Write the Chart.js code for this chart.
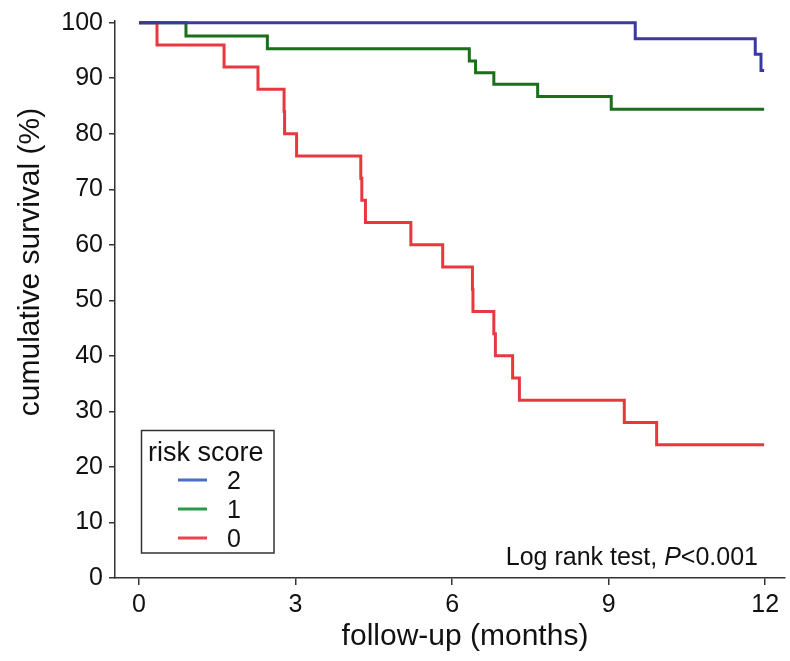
<!DOCTYPE html>
<html>
<head>
<meta charset="utf-8">
<script src="https://cdn.jsdelivr.net/npm/chart.js@4/dist/chart.umd.min.js"></script>
<style>
  html, body { margin: 0; padding: 0; background: #ffffff; }
  #wrap { width: 790px; height: 661px; position: relative; }
</style>
</head>
<body>
<div id="wrap"><canvas id="c" width="790" height="661"></canvas></div>
<script>
// ---- data (months, % survival) ----
const seriesLabels = ['2', '1', '0'];
const timesScore2 = [0, 9.51, 11.81, 11.92, 11.98];
const survScore2  = [100, 97.1, 94.3, 91.4, 91.4];
const timesScore1 = [0, 0.90, 2.46, 6.33, 6.45, 6.80, 7.64, 9.05, 11.98];
const survScore1  = [100, 97.6, 95.3, 93.1, 91.0, 88.9, 86.7, 84.4, 84.4];
const timesScore0 = [0, 0.345, 1.63, 2.28, 2.78, 2.79, 3.02, 4.25, 4.27, 4.34, 5.21, 5.82, 6.39, 6.40, 6.80, 6.83, 7.16, 7.29, 9.30, 9.92, 11.98];
const survScore0  = [100, 96, 92, 88, 84, 80, 76, 72, 68, 64, 60, 56, 52, 48, 44, 40, 36, 32, 28, 24, 24];
const xTicks = [0, 3, 6, 9, 12];
const yTicks = [0, 10, 20, 30, 40, 50, 60, 70, 80, 90, 100];
const xTitle = 'follow-up (months)';
const yTitle = 'cumulative survival (%)';
const legendTitle = 'risk score';
const noteText = 'Log rank test, ';
const noteP = 'P';
const noteRest = '<0.001';

const lineColors = ['#3a3a9c', '#1a6e1c', '#e8383f'];
const legendColors = ['#4a6cc2', '#279a4c', '#e8444b'];
const FONT = '"Liberation Sans", Arial, sans-serif';
const AX = '#333333';

function pts(ts, vs) { return ts.map((t, i) => ({ x: t, y: vs[i] })); }

const textPlugin = {
  id: 'texts',
  afterDraw(chart) {
    const ctx = chart.ctx;
    ctx.save();
    ctx.fillStyle = '#111';
    // y title
    ctx.font = '30px ' + FONT;
    ctx.textAlign = 'center';
    ctx.textBaseline = 'alphabetic';
    ctx.save();
    ctx.translate(39, 262);
    ctx.rotate(-Math.PI / 2);
    ctx.fillText(yTitle, 0, 0);
    ctx.restore();
    // x title
    ctx.fillText(xTitle, 465, 645);
    // note
    ctx.font = '25px ' + FONT;
    ctx.textAlign = 'left';
    const w1 = ctx.measureText(noteText).width;
    const w3 = ctx.measureText(noteRest).width;
    ctx.font = 'italic 25px ' + FONT;
    const w2 = ctx.measureText(noteP).width;
    let x = 758 - (w1 + w2 + w3);
    ctx.font = '25px ' + FONT;
    ctx.fillText(noteText, x, 565);
    ctx.font = 'italic 25px ' + FONT;
    ctx.fillText(noteP, x + w1, 565);
    ctx.font = '25px ' + FONT;
    ctx.fillText(noteRest, x + w1 + w2, 565);
    // legend
    ctx.strokeStyle = AX;
    ctx.lineWidth = 1.5;
    ctx.strokeRect(141.5, 430.5, 132.5, 122.5);
    ctx.font = '27px ' + FONT;
    ctx.fillText(legendTitle, 148, 461);
    const ys = [480, 509, 538];
    ctx.font = '25px ' + FONT;
    seriesLabels.forEach((lab, i) => {
      ctx.strokeStyle = legendColors[i];
      ctx.lineWidth = 3;
      ctx.beginPath();
      ctx.moveTo(178, ys[i]);
      ctx.lineTo(207, ys[i]);
      ctx.stroke();
      ctx.fillStyle = '#111';
      ctx.fillText(lab, 227, ys[i] + 9);
    });
    ctx.restore();
  }
};

new Chart(document.getElementById('c'), {
  type: 'line',
  data: {
    datasets: [
      { label: seriesLabels[0], data: pts(timesScore2, survScore2), borderColor: lineColors[0] },
      { label: seriesLabels[1], data: pts(timesScore1, survScore1), borderColor: lineColors[1] },
      { label: seriesLabels[2], data: pts(timesScore0, survScore0), borderColor: lineColors[2] }
    ].map(d => Object.assign(d, { stepped: 'before', pointRadius: 0, borderWidth: 3, fill: false, clip: false, tension: 0 }))
  },
  options: {
    responsive: false,
    animation: false,
    events: [],
    layout: { padding: { top: 18, right: 5, left: 0, bottom: 0 } },
    plugins: { legend: { display: false }, tooltip: { enabled: false }, title: { display: false } },
    scales: {
      x: {
        type: 'linear',
        min: -0.46, max: 12.38,
        afterFit(s) { s.height = 83; },
        afterBuildTicks(s) { s.ticks = xTicks.map(v => ({ value: v })); },
        grid: { drawOnChartArea: false, drawTicks: true, tickLength: 7, color: AX, lineWidth: 1.5 },
        border: { display: true, color: AX, width: 1.5 },
        ticks: { color: '#111', font: { family: FONT, size: 25 }, padding: 5, maxRotation: 0, autoSkip: false }
      },
      y: {
        type: 'linear',
        min: 0, max: 100.3,
        afterFit(s) { s.width = 115; },
        afterBuildTicks(s) { s.ticks = yTicks.map(v => ({ value: v })); },
        grid: { drawOnChartArea: false, drawTicks: true, tickLength: 6, color: AX, lineWidth: 1.5 },
        border: { display: true, color: AX, width: 1.5 },
        ticks: { color: '#111', font: { family: FONT, size: 25 }, padding: 6, autoSkip: false }
      }
    }
  },
  plugins: [textPlugin]
});
</script>
</body>
</html>
